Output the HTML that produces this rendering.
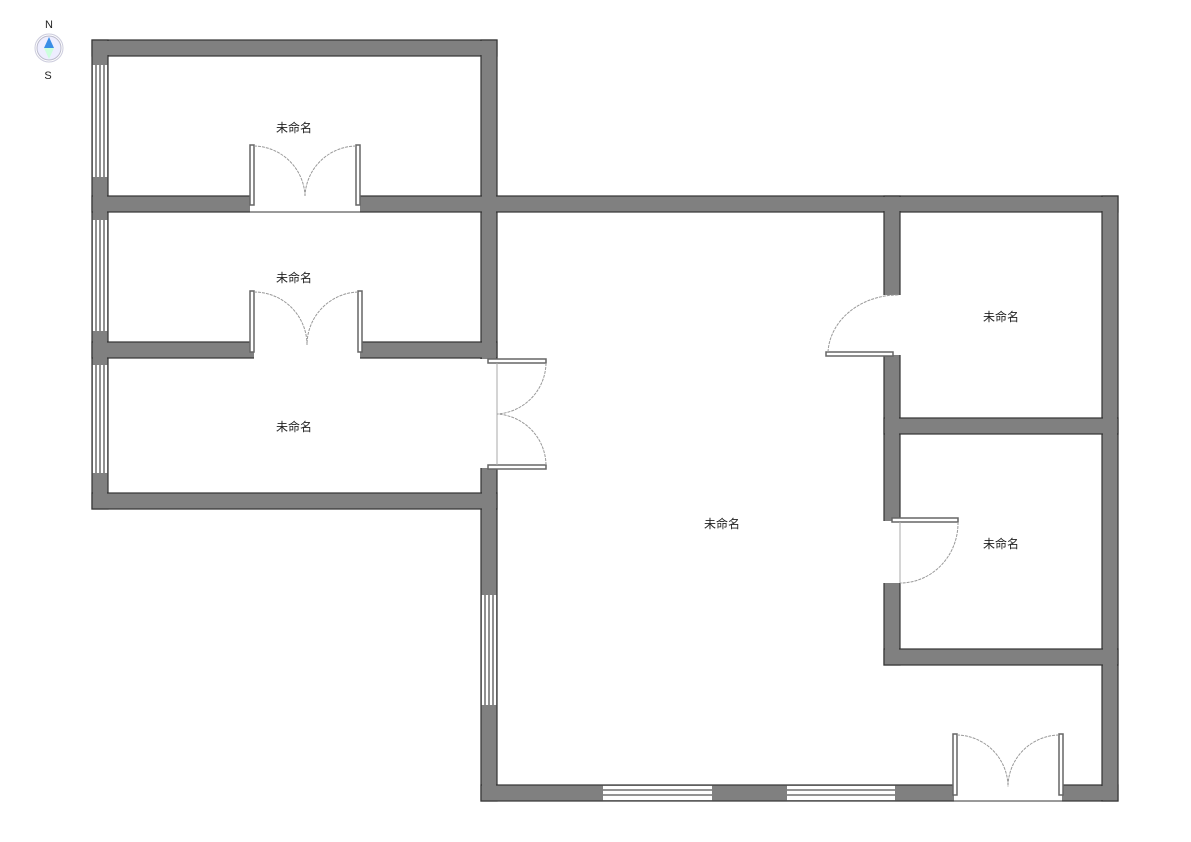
<!DOCTYPE html>
<html><head><meta charset="utf-8"><style>body{margin:0;background:#fff}svg{display:block}text{font-family:"Liberation Sans","Noto Sans CJK SC",sans-serif;font-size:12px;fill:#222}</style></head><body>
<svg width="1191" height="842" viewBox="0 0 1191 842">
<defs>
<g id="w">
<rect x="92" y="40" width="405" height="16"/>
<rect x="92" y="40" width="16" height="469"/>
<rect x="481" y="40" width="16" height="761"/>
<rect x="92" y="196" width="1026" height="16"/>
<rect x="92" y="342" width="405" height="16"/>
<rect x="92" y="493" width="405" height="16"/>
<rect x="481" y="785" width="637" height="16"/>
<rect x="1102" y="196" width="16" height="605"/>
<rect x="884" y="196" width="16" height="469"/>
<rect x="884" y="418" width="234" height="16"/>
<rect x="884" y="649" width="234" height="16"/>
</g>
</defs>
<g fill="#808080" stroke="#333" stroke-width="1.2"><use href="#w"/></g>
<g fill="#808080" stroke="#808080" stroke-width="0" transform="translate(0 0)">
<rect x="93" y="41" width="403" height="14"/>
<rect x="93" y="41" width="14" height="467"/>
<rect x="482" y="41" width="14" height="759"/>
<rect x="93" y="197" width="1024" height="14"/>
<rect x="93" y="343" width="403" height="14"/>
<rect x="93" y="494" width="403" height="14"/>
<rect x="482" y="786" width="635" height="14"/>
<rect x="1103" y="197" width="14" height="603"/>
<rect x="885" y="197" width="14" height="467"/>
<rect x="885" y="419" width="232" height="14"/>
<rect x="885" y="650" width="232" height="14"/>
</g>
<g fill="#fff" stroke="none">
<rect x="250" y="195" width="110" height="18"/>
<rect x="254" y="341" width="106" height="18"/>
<rect x="480" y="359" width="18" height="109"/>
<rect x="883" y="295" width="18" height="60"/>
<rect x="883" y="521" width="18" height="62"/>
<rect x="954" y="784" width="108" height="18"/>
<rect x="93" y="65" width="14" height="112"/>
<rect x="93" y="220" width="14" height="111"/>
<rect x="93" y="365" width="14" height="108"/>
<rect x="482" y="595" width="14" height="110"/>
<rect x="603" y="786" width="109" height="14"/>
<rect x="787" y="786" width="108" height="14"/>
</g>
<g stroke="#555" stroke-width="1.3" fill="none">
<path d="M96 65V177M100 65V177M104 65V177M96 220V331M100 220V331M104 220V331M96 365V473M100 365V473M104 365V473"/>
<path d="M485 595V705M489 595V705M493 595V705"/>
<path d="M603 790H712M603 795H712M787 790H895M787 795H895"/>
<path d="M92 65V177M108 65V177M92 220V331M108 220V331M92 365V473M108 365V473M481 595V705M497 595V705M603 785H712M603 801H712M787 785H895M787 801H895"/>
</g>
<g stroke="#333" stroke-width="1"><path d="M250 212H360M954 801H1062"/></g>
<g fill="#fff" stroke="#666" stroke-width="1.5">
<rect x="250" y="145" width="4" height="60"/><rect x="356" y="145" width="4" height="60"/>
<rect x="250" y="291" width="4" height="61"/><rect x="358" y="291" width="4" height="61"/>
<rect x="488" y="359" width="58" height="4"/><rect x="488" y="465" width="58" height="4"/>
<rect x="826" y="352" width="67" height="4"/>
<rect x="892" y="518" width="66" height="4"/>
<rect x="953" y="734" width="4" height="61"/><rect x="1059" y="734" width="4" height="61"/>
</g>
<g stroke="#999" stroke-width="1" fill="none" stroke-dasharray="3 1">
<path d="M254 146A52 52 0 0 1 305 196M356 146A52 52 0 0 0 305 196"/>
<path d="M254 292A53 53 0 0 1 307 345M358 292A53 53 0 0 0 307 345"/>
<path d="M546 363A52 52 0 0 1 497 414M546 465A52 52 0 0 0 497 414"/>
<path d="M828 352A70 60 0 0 1 899 295"/>
<path d="M958 522A58 60 0 0 1 900 583"/>
<path d="M957 735A52 52 0 0 1 1008 787M1059 735A52 52 0 0 0 1008 787"/>
</g>
<g stroke="#aaa" stroke-width="1"><path d="M497 363V465M900 522V583"/></g>
<text x="294" y="132" text-anchor="middle">未命名</text>
<text x="294" y="282" text-anchor="middle">未命名</text>
<text x="294" y="431" text-anchor="middle">未命名</text>
<text x="722" y="528" text-anchor="middle">未命名</text>
<text x="1001" y="321" text-anchor="middle">未命名</text>
<text x="1001" y="548" text-anchor="middle">未命名</text>
<text x="49" y="28" text-anchor="middle" style="font-size:11px">N</text>
<circle cx="49" cy="48" r="14" fill="#fff" stroke="#ccd" stroke-width="1"/>
<circle cx="49" cy="48" r="12" fill="#eef" stroke="#bbc" stroke-width="1"/>
<path d="M49 37L54 48H44Z" fill="#3a8ee6"/>
<path d="M49 59L54 48H44Z" fill="#cfd"/>
<text x="48" y="79" text-anchor="middle" style="font-size:11px">S</text>
</svg>
</body></html>
